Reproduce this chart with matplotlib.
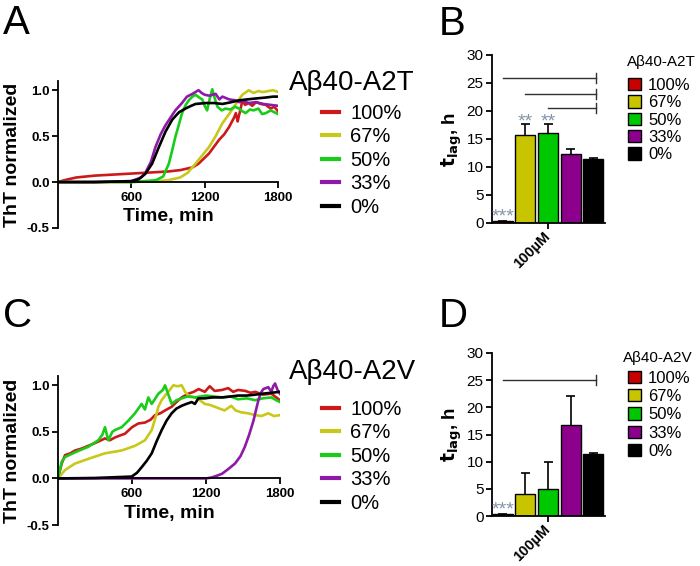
import numpy as np
import matplotlib.pyplot as plt
from matplotlib.patches import Patch
from matplotlib.lines import Line2D

plt.rcParams['font.family'] = ['Liberation Sans', 'DejaVu Sans']

# ---- data ----
labels = ['100%', '67%', '50%', '33%', '0%']
line_colors = ['#cc1a1a', '#c8c81a', '#1acc1a', '#8e1aa8', '#000000']
bar_colors = ['#c80000', '#c8c400', '#00c800', '#8c008c', '#000000']

# panel A: Abeta40-A2T kinetics (time in min, ThT normalized)
a_t_100 = [0, 50, 150, 300, 500, 700, 900, 1000, 1100, 1150, 1235, 1318, 1360, 1400, 1440, 1455,
           1470, 1480, 1495, 1508, 1530, 1560, 1590, 1620, 1660, 1700, 1740, 1770, 1800]
a_v_100 = [0.0, 0.02, 0.05, 0.07, 0.085, 0.1, 0.115, 0.13, 0.16, 0.2, 0.31, 0.46, 0.52, 0.6, 0.7, 0.75,
           0.66, 0.72, 0.8, 0.89, 0.84, 0.86, 0.83, 0.87, 0.85, 0.84, 0.8, 0.82, 0.77]
a_t_67 = [0, 300, 600, 800, 900, 1000, 1060, 1125, 1180, 1235, 1290, 1345, 1400, 1450, 1508, 1540,
          1560, 1600, 1640, 1675, 1720, 1760, 1800]
a_v_67 = [0, 0, 0.0, 0.01, 0.02, 0.05, 0.1, 0.2, 0.29, 0.38, 0.5, 0.64, 0.74, 0.84, 0.95, 0.98,
          1.0, 0.97, 0.99, 0.98, 0.99, 1.0, 0.98]
a_t_50 = [0, 300, 600, 800, 860, 907, 935, 960, 990, 1015, 1045, 1070, 1100, 1125, 1155, 1180, 1200,
          1220, 1240, 1262, 1285, 1305, 1340, 1370, 1410, 1450, 1480, 1510, 1535, 1570, 1600, 1640,
          1670, 1700, 1740, 1770, 1800]
a_v_50 = [0, 0, 0.0, 0.02, 0.06, 0.2, 0.35, 0.49, 0.63, 0.75, 0.84, 0.89, 0.93, 0.95, 0.92, 0.9, 0.83,
          0.78, 0.9, 1.01, 0.9, 0.82, 0.78, 0.8, 0.79, 0.82, 0.8, 0.77, 0.75, 0.79, 0.78, 0.8,
          0.74, 0.75, 0.78, 0.76, 0.74]
a_t_33 = [0, 300, 600, 680, 715, 760, 797, 840, 880, 920, 960, 1014, 1055, 1100, 1150, 1175, 1200,
          1240, 1290, 1320, 1345, 1400, 1450, 1482, 1520, 1560, 1620, 1680, 1740, 1800]
a_v_33 = [0, 0, 0.01, 0.05, 0.1, 0.22, 0.38, 0.52, 0.62, 0.7, 0.78, 0.86, 0.93, 0.96, 1.0, 0.97, 0.95,
          0.94, 0.96, 0.9, 0.93, 0.9, 0.89, 0.87, 0.88, 0.86, 0.87, 0.85, 0.84, 0.83]
a_t_0 = [0, 300, 600, 660, 715, 770, 825, 880, 935, 990, 1043, 1090, 1125, 1208, 1280, 1345, 1420,
         1482, 1550, 1620, 1700, 1760, 1800]
a_v_0 = [0, 0, 0.01, 0.03, 0.09, 0.2, 0.38, 0.55, 0.68, 0.76, 0.8, 0.83, 0.85, 0.86, 0.86, 0.85, 0.87,
         0.89, 0.9, 0.91, 0.92, 0.93, 0.93]

# panel C: Abeta40-A2V kinetics
c_t_100 = [0, 30, 57, 100, 138, 190, 245, 300, 350, 381, 420, 462, 500, 543, 600, 651, 705, 750, 787,
           830, 868, 922, 960, 1003, 1057, 1100, 1140, 1190, 1230, 1270, 1330, 1380, 1420, 1460, 1520,
           1560, 1600, 1660, 1730, 1770, 1800]
c_v_100 = [0, 0.16, 0.25, 0.27, 0.3, 0.32, 0.35, 0.38, 0.41, 0.43, 0.41, 0.44, 0.46, 0.48, 0.55, 0.59,
           0.6, 0.63, 0.68, 0.7, 0.73, 0.77, 0.82, 0.87, 0.91, 0.93, 0.96, 0.93, 0.99, 0.94, 0.95, 0.97,
           0.93, 0.95, 0.94, 0.92, 0.93, 0.9, 0.91, 0.87, 0.84]
c_t_67 = [0, 57, 138, 245, 381, 516, 624, 705, 760, 790, 814, 840, 868, 900, 935, 970, 1003, 1030,
          1057, 1111, 1150, 1190, 1230, 1270, 1310, 1350, 1405, 1440, 1485, 1540, 1600, 1650, 1705,
          1750, 1800]
c_v_67 = [0, 0.09, 0.16, 0.21, 0.27, 0.3, 0.35, 0.41, 0.52, 0.65, 0.77, 0.84, 0.89, 0.94, 1.0, 0.99,
          1.0, 0.93, 0.89, 0.87, 0.84, 0.8, 0.79, 0.77, 0.75, 0.73, 0.78, 0.73, 0.71, 0.7, 0.68, 0.67,
          0.7, 0.67, 0.68]
c_t_50 = [0, 30, 57, 138, 245, 327, 360, 381, 408, 440, 462, 516, 570, 624, 678, 705, 732, 760, 814,
          850, 868, 900, 922, 960, 1003, 1050, 1111, 1200, 1330, 1400, 1460, 1530, 1600, 1660, 1730,
          1770, 1800]
c_v_50 = [0, 0.18, 0.23, 0.28, 0.34, 0.41, 0.47, 0.55, 0.41, 0.5, 0.52, 0.55, 0.62, 0.7, 0.8, 0.74,
          0.87, 0.8, 0.91, 0.95, 1.0, 0.88, 0.8, 0.84, 0.86, 0.88, 0.87, 0.89, 0.87, 0.88, 0.85, 0.86,
          0.84, 0.86, 0.87, 0.84, 0.82]
c_t_33 = [0, 600, 1200, 1245, 1290, 1330, 1380, 1435, 1480, 1515, 1550, 1585, 1610, 1625, 1645, 1665,
          1685, 1705, 1720, 1730, 1745, 1760, 1780, 1800]
c_v_33 = [0, 0, 0, 0.01, 0.03, 0.05, 0.1, 0.16, 0.24, 0.34, 0.47, 0.62, 0.76, 0.84, 0.92, 0.96, 0.97,
          0.98, 0.95, 0.93, 0.99, 1.02, 0.95, 0.91]
c_t_0 = [0, 300, 597, 640, 678, 720, 760, 800, 841, 880, 922, 960, 1003, 1040, 1084, 1110, 1138, 1190,
         1250, 1330, 1400, 1460, 1530, 1600, 1660, 1730, 1800]
c_v_0 = [0, 0.005, 0.02, 0.06, 0.12, 0.19, 0.27, 0.4, 0.52, 0.62, 0.7, 0.75, 0.78, 0.8, 0.82, 0.8, 0.86,
         0.86, 0.87, 0.87, 0.88, 0.89, 0.89, 0.9, 0.91, 0.92, 0.93]

# panels B/D: lag times (h), mean and upper SD
b_lag = [0.3, 15.8, 16.0, 12.3, 11.5]
b_err = [0.1, 1.8, 1.6, 1.0, 0.1]
d_lag = [0.3, 4.0, 5.0, 16.8, 11.5]
d_err = [0.1, 4.0, 5.0, 5.2, 0.1]
b_stars = ['***', '**', '**', '', '']
d_stars = ['***', '', '', '', '']
b_sig_from = [0, 1, 2]
b_sig_y = [25.9, 23.1, 20.6]
d_sig_from = [0]
d_sig_y = [25.0]

fig = plt.figure(figsize=(7, 5.66), dpi=100)


def fy(px):
    return 1 - px / 566


def kinetics(ax, series, title, title_y, leg_top):
    for (t, v), c, lab in zip(series, line_colors, labels):
        ax.plot(t, v, color=c, lw=1.9, label=lab)
    ax.set_xlim(0, 1800)
    ax.set_ylim(-0.5, 1.1)
    ax.set_xticks([600, 1200, 1800])
    ax.set_yticks([-0.5, 0.0, 0.5, 1.0])
    ax.set_yticklabels(['-0.5', '0.0', '0.5', '1.0'])
    ax.spines['top'].set_visible(False)
    ax.spines['right'].set_visible(False)
    ax.spines['bottom'].set_position(('data', 0))
    for s in ['left', 'bottom']:
        ax.spines[s].set_linewidth(1.3)
    ax.tick_params(direction='out', length=4, width=1.3, labelsize=9.5, pad=2)
    ax.tick_params(axis='x', pad=3)
    for tl in ax.get_xticklabels() + ax.get_yticklabels():
        tl.set_fontweight('bold')
    ax.set_xlabel('Time, min', fontsize=14, fontweight='bold', labelpad=0)
    ax.xaxis.set_label_coords(0.5, 0.135)
    ax.set_ylabel('ThT normalized', fontsize=14, fontweight='bold', labelpad=4)
    fig.text(289 / 700, fy(title_y), title, fontsize=20, ha='left', va='center')
    handles = [Line2D([0], [0], color=c, lw=3) for c in line_colors]
    ax.legend(handles, labels, loc='upper left', bbox_to_anchor=(322 / 700, fy(leg_top)),
              bbox_transform=fig.transFigure, frameon=False, fontsize=14.5,
              handlelength=0.85, handletextpad=0.55, labelspacing=0.22,
              borderpad=0, borderaxespad=0)


def lagbars(ax, lag, err, stars, sig_from, sig_y, title, title_x, title_y, leg_top, spacing):
    x = np.arange(len(lag))
    ax.bar(x, lag, width=0.88, color=bar_colors, edgecolor='black', linewidth=1)
    tops = np.array(lag) + np.array(err)
    ax.vlines(x, lag, tops, color='black', lw=1.2)
    ax.hlines(tops, x - 0.2, x + 0.2, color='black', lw=1.2)
    for xi, t, s in zip(x, tops, stars):
        if s:
            base = 0.3 if t < 1 else t - 0.3
            ax.text(xi, base, s, ha='center', va='baseline', color='#8494a6', fontsize=14)
    for x0, y in zip(sig_from, sig_y):
        ax.plot([x0, 4.1], [y, y], color='#303030', lw=1)
        ax.plot([4.1, 4.1], [y - 0.9, y + 0.9], color='#303030', lw=1)
    ax.set_xlim(-0.47, 4.51)
    ax.set_ylim(0, 30)
    ax.set_yticks([0, 5, 10, 15, 20, 25, 30])
    ax.set_xticks([2])
    ax.set_xticklabels(['100µM'], rotation=45, ha='right', va='center', rotation_mode='anchor',
                       fontsize=10.5, fontweight='bold')
    ax.spines['top'].set_visible(False)
    ax.spines['right'].set_visible(False)
    for s in ['left', 'bottom']:
        ax.spines[s].set_linewidth(1.3)
    ax.tick_params(axis='y', direction='out', length=4, width=1.3, labelsize=11, pad=2)
    ax.tick_params(axis='x', direction='out', length=4, width=1.3, pad=4)
    ax.set_ylabel(r'$\mathbf{t_{lag}}$, h', fontsize=13.5, fontweight='bold', labelpad=2)
    fig.text(title_x / 700, fy(title_y), title, fontsize=11, ha='left', va='center')
    handles = [Patch(facecolor=c, edgecolor='black', linewidth=1) for c in bar_colors]
    ax.legend(handles, labels, loc='upper left', bbox_to_anchor=(628 / 700, fy(leg_top)),
              bbox_transform=fig.transFigure, frameon=False, fontsize=12,
              handlelength=0.75, handleheight=0.75, handletextpad=0.45,
              labelspacing=spacing, borderpad=0, borderaxespad=0)


axA = fig.add_axes([58 / 700, fy(228), 220 / 700, 147 / 566])
kinetics(axA, [(a_t_100, a_v_100), (a_t_67, a_v_67), (a_t_50, a_v_50), (a_t_33, a_v_33),
               (a_t_0, a_v_0)], 'Aβ40-A2T', 83, 104)

axC = fig.add_axes([58 / 700, fy(525), 222 / 700, 149 / 566])
kinetics(axC, [(c_t_100, c_v_100), (c_t_67, c_v_67), (c_t_50, c_v_50), (c_t_33, c_v_33),
               (c_t_0, c_v_0)], 'Aβ40-A2V', 372, 400)

axB = fig.add_axes([492 / 700, fy(223), 113 / 700, 168 / 566])
lagbars(axB, b_lag, b_err, b_stars, b_sig_from, b_sig_y, 'Aβ40-A2T', 627, 62, 78, 0.14)

axD = fig.add_axes([492 / 700, fy(516), 113 / 700, 163 / 566])
lagbars(axD, d_lag, d_err, d_stars, d_sig_from, d_sig_y, 'Aβ40-A2V', 623, 358, 371, 0.19)

# panel letters
for lab, x, y in [('A', 3, 4), ('B', 439, 5), ('C', 3, 297), ('D', 439, 297)]:
    fig.text(x / 700, fy(y), lab, fontsize=29, va='top', ha='left')

fig.savefig('out.png', dpi=100)
